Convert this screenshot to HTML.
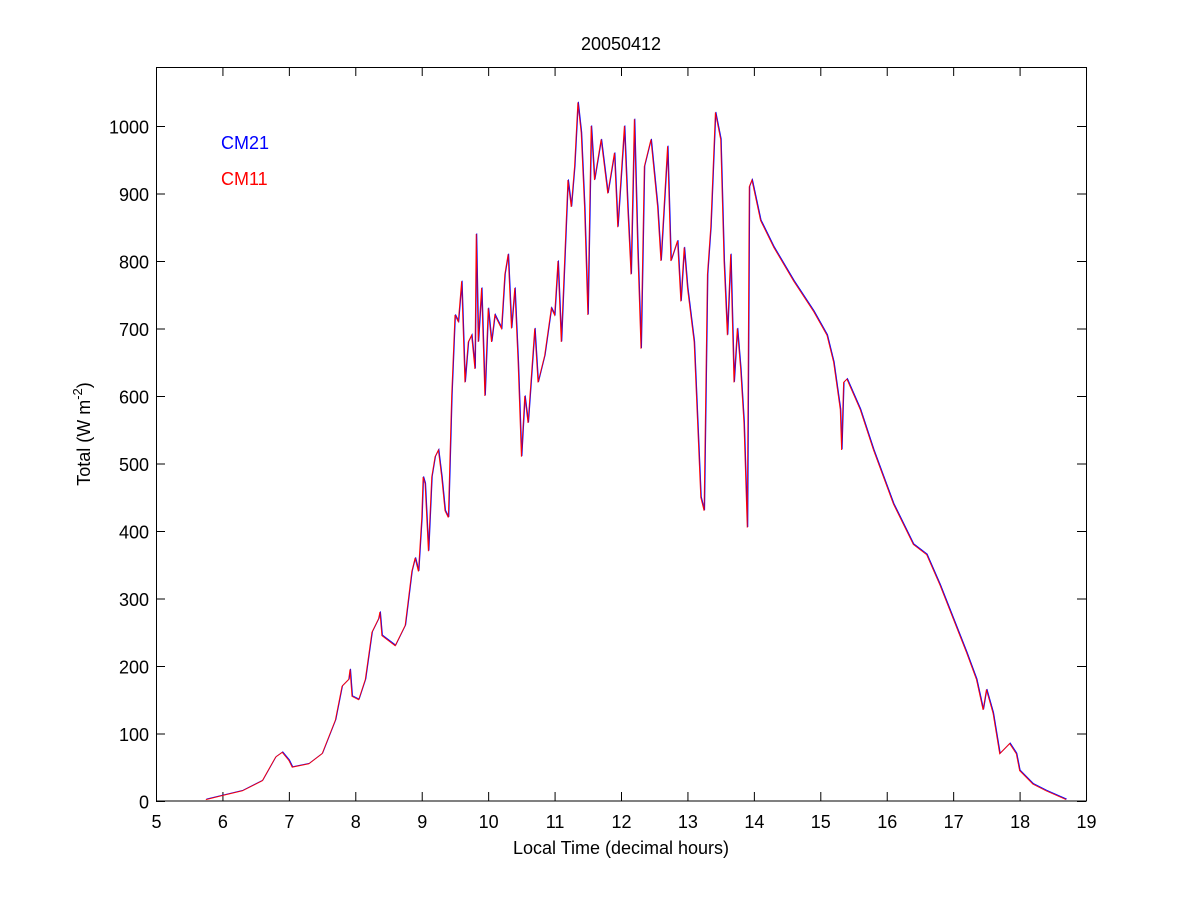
<!DOCTYPE html>
<html><head><meta charset="utf-8"><style>
body{margin:0;background:#fff;}
svg text{font-family:"Liberation Sans",Arial,sans-serif;font-size:18px;fill:#000;}
</style></head><body>
<svg id="s" width="1200" height="900" xmlns="http://www.w3.org/2000/svg">
<rect width="1200" height="900" fill="#fff"/>
<g id="ticks" stroke="#000" stroke-width="1"></g>
<g id="lbl"></g>
<polyline id="b" fill="none" stroke="#0000ff" stroke-width="0.9"/>
<polyline id="r" fill="none" stroke="#ff0000" stroke-width="0.9"/>
<rect x="156.5" y="67.5" width="930" height="733.5" fill="none" stroke="#000"/>
<text x="621" y="50" text-anchor="middle">20050412</text>
<text x="621" y="854" text-anchor="middle">Local Time (decimal hours)</text>
<text transform="translate(90,434) rotate(-90)" text-anchor="middle">Total (W m<tspan dy="-8" font-size="13">-2</tspan><tspan dy="8">)</tspan></text>
<text x="221" y="149" style="fill:#0000ff">CM21</text>
<text x="221" y="185" style="fill:#ff0000">CM11</text>
</svg>
<script>
const X=h=>156+(h-5)*66.43, Y=v=>801-v*0.675;
let t='',l='';
for(let h=5;h<=19;h++){const x=X(h)+0.5;t+=`<line x1="${x}" y1="801" x2="${x}" y2="792"/><line x1="${x}" y1="67" x2="${x}" y2="76"/>`;l+=`<text x="${x}" y="828" text-anchor="middle">${h}</text>`;}
for(let v=0;v<=1000;v+=100){const y=Y(v)+0.5;t+=`<line x1="156" y1="${y}" x2="165" y2="${y}"/><line x1="1086" y1="${y}" x2="1077" y2="${y}"/>`;l+=`<text x="149" y="${y+7}" text-anchor="end">${v}</text>`;}
document.getElementById('ticks').innerHTML=t;document.getElementById('lbl').innerHTML=l;
const d=[5.75,2,6,8,6.3,15,6.6,30,6.8,65,6.9,72,7.0,60,7.05,50,7.3,55,7.5,70,7.7,120,7.8,170,7.9,180,7.92,195,7.95,155,8.05,150,8.15,180,8.25,250,8.35,270,8.37,280,8.4,245,8.6,230,8.75,260,8.85,340,8.9,360,8.95,340,9.0,420,9.02,480,9.05,470,9.1,370,9.15,480,9.2,510,9.25,520,9.3,480,9.35,430,9.4,420,9.45,600,9.5,720,9.55,710,9.6,770,9.65,620,9.7,680,9.75,690,9.8,640,9.82,840,9.85,680,9.9,760,9.95,600,10.0,730,10.05,680,10.1,720,10.2,700,10.25,780,10.3,810,10.35,700,10.4,760,10.45,650,10.5,510,10.55,600,10.6,560,10.7,700,10.75,620,10.85,660,10.95,730,11.0,720,11.05,800,11.1,680,11.2,920,11.25,880,11.3,940,11.35,1035,11.4,990,11.45,880,11.5,720,11.55,1000,11.6,920,11.7,980,11.8,900,11.9,960,11.95,850,12.05,1000,12.1,880,12.15,780,12.2,1010,12.25,820,12.3,670,12.35,940,12.45,980,12.55,880,12.6,800,12.7,970,12.75,800,12.85,830,12.9,740,12.95,820,13.0,760,13.1,680,13.2,450,13.25,430,13.3,780,13.35,850,13.42,1020,13.5,980,13.55,800,13.6,690,13.65,810,13.7,620,13.75,700,13.8,640,13.85,560,13.9,405,13.93,910,13.97,920,14.1,860,14.3,820,14.6,770,14.9,725,15.1,690,15.2,650,15.3,580,15.32,520,15.35,620,15.4,625,15.6,580,15.8,520,16.1,440,16.4,380,16.6,365,16.8,320,17.0,270,17.2,220,17.35,180,17.45,135,17.5,165,17.6,130,17.7,70,17.85,85,17.95,70,18.0,45,18.2,25,18.4,15,18.7,2];
let p='',q='';for(let i=0;i<d.length;i+=2){p+=X(d[i])+','+Y(d[i+1])+' ';q+=(X(d[i])+0.6)+','+(Y(d[i+1])-0.6)+' ';}
document.getElementById('r').setAttribute('points',p);document.getElementById('b').setAttribute('points',q);
</script>
</body></html>
